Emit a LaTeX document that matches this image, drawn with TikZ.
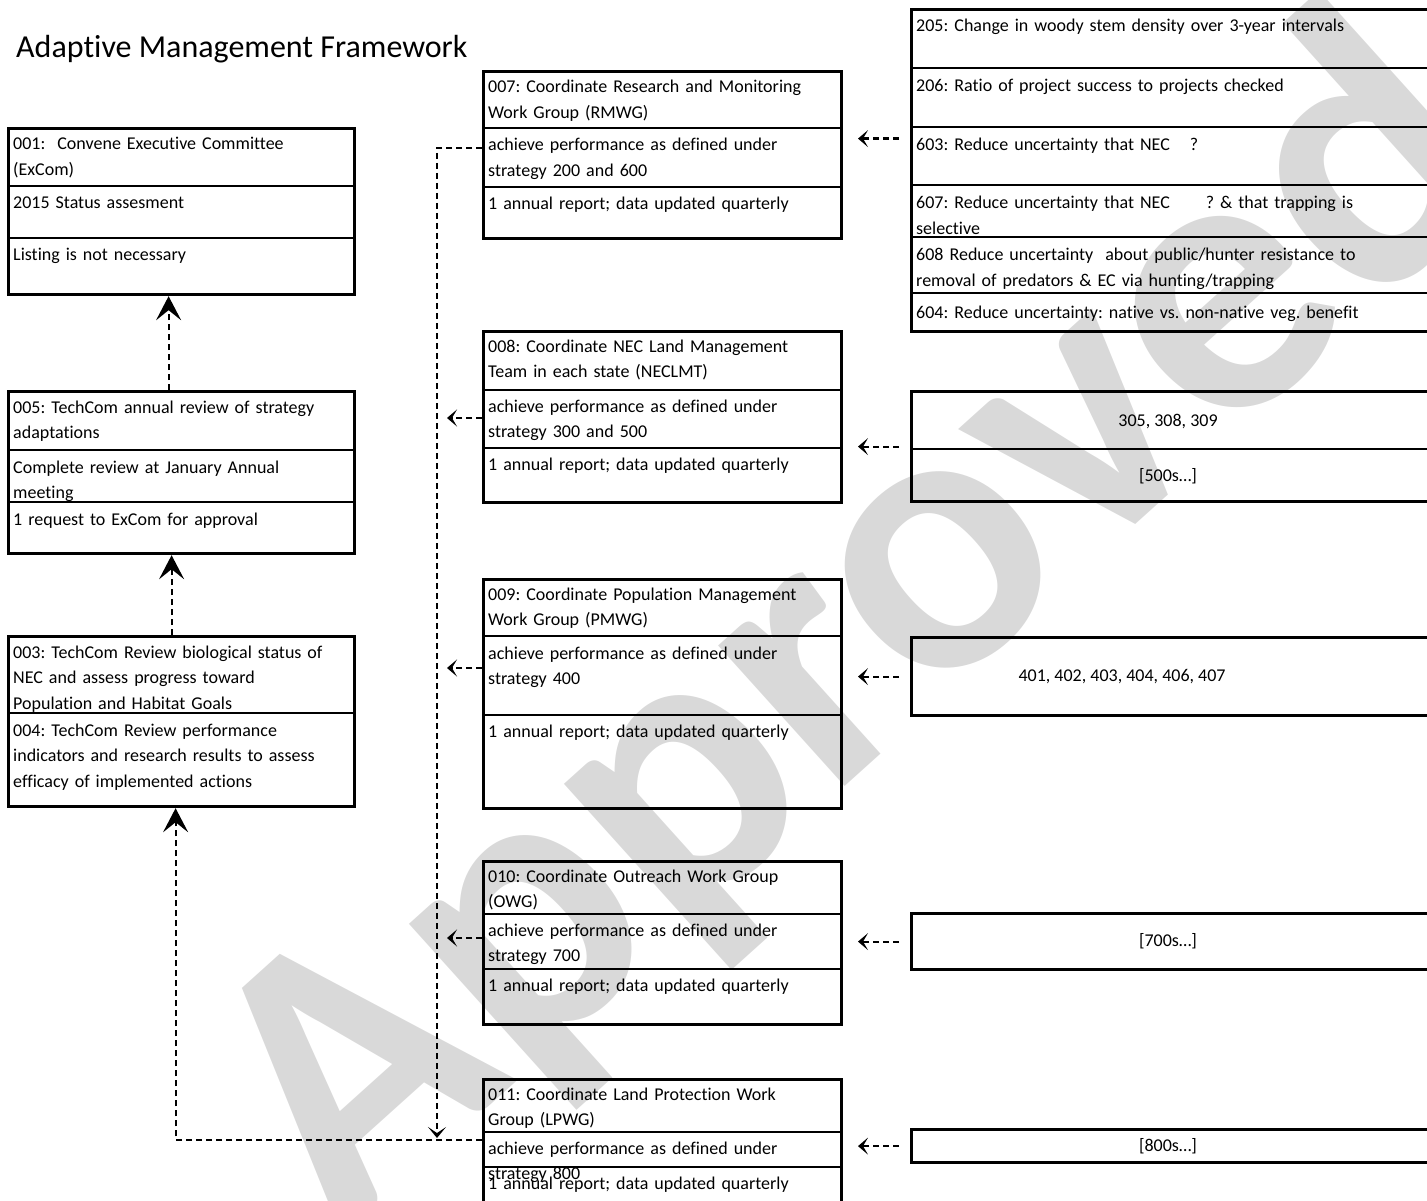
\documentclass[tikz,border=0pt]{standalone}
\usepackage{fontspec}
\setmainfont{Carlito}[Ligatures=CommonOff]
\usetikzlibrary{arrows.meta}
\definecolor{wmgray}{RGB}{217,217,217}
\frenchspacing

\begin{document}
\begin{tikzpicture}[x=1pt, y=-1pt, line join=miter,
		font=\fontsize{18}{25.5}\selectfont,
		box/.style={draw, line width=3.2pt, inner sep=0pt, anchor=north west},
		sep/.style={line width=2pt},
		txt/.style={anchor=base west, inner sep=0pt, align=left, text width=#1},
		txt/.default=345pt,
		ctr/.style={anchor=base, inner sep=0pt},
		dashline/.style={line width=2.2pt, dash pattern=on 6pt off 4pt},
		up/.style={dashline, -{Stealth[length=24pt, width=25pt, inset=10pt]}},
		back/.style={dashline, -{Stealth[length=10pt, width=17pt, inset=5pt]}},
		down/.style={dashline, -{Stealth[length=11pt, width=18pt, inset=6pt]}}]
	\useasboundingbox (0,0) rectangle (1427,1201);
	\clip (0,0) rectangle (1427,1201);
	% watermark
	\node[rotate=42, text=wmgray, font=\fontsize{390}{390}\selectfont\bfseries] (wm) at (860,630) {Approved};
	\node[anchor=base west, inner sep=0pt, font=\fontsize{32}{38}\selectfont] (title) at (16,58) {Adaptive Management Framework};
	
	% left column
	\node[box, minimum width=346pt, minimum height=166pt] (b001) at (7,127) {};
	\foreach \y in {186,238} \draw[sep] (7,\y) -- (353,\y);
	\node[txt] (t001) at (13,150) {001:\ \ Convene Executive Committee\\(ExCom)};
	\node[txt] (t001b) at (13,209) {2015 Status assesment};
	\node[txt] (t001c) at (13,261) {Listing is not necessary};
	
	\node[box, minimum width=346pt, minimum height=162pt] (b005) at (7,390) {};
	\foreach \y in {450,502} \draw[sep] (7,\y) -- (353,\y);
	\node[txt] (t005) at (13,413) {005: TechCom annual review of strategy\\adaptations};
	\node[txt] (t005b) at (13,473) {Complete review at January Annual\\meeting};
	\node[txt] (t005c) at (13,525) {1 request to ExCom for approval};
	
	\node[box, minimum width=346pt, minimum height=170pt] (b003) at (7,635) {};
	\draw[sep] (7,713) -- (353,713);
	\node[txt] (t003) at (13,658) {003: TechCom Review biological status of\\NEC and assess progress toward\\Population and Habitat Goals};
	\node[txt] (t004) at (13,736) {004: TechCom Review performance\\indicators and research results to assess\\efficacy of implemented actions};
	
	% middle column
	\node[box, minimum width=358pt, minimum height=167pt] (b007) at (482,70) {};
	\foreach \y in {128,187} \draw[sep] (482,\y) -- (840,\y);
	\node[txt] (t007) at (488,93) {007: Coordinate Research and Monitoring\\Work Group (RMWG)};
	\node[txt] (t007b) at (488,151) {achieve performance as defined under\\strategy 200 and 600};
	\node[txt] (t007c) at (488,210) {1 annual report; data updated quarterly};
	
	\node[box, minimum width=358pt, minimum height=171pt] (b008) at (482,330) {};
	\foreach \y in {390,448} \draw[sep] (482,\y) -- (840,\y);
	\node[txt] (t008) at (488,352) {008: Coordinate NEC Land Management\\Team in each state (NECLMT)};
	\node[txt] (t008b) at (488,412) {achieve performance as defined under\\strategy 300 and 500};
	\node[txt] (t008c) at (488,470) {1 annual report; data updated quarterly};
	
	\node[box, minimum width=358pt, minimum height=229pt] (b009) at (482,578) {};
	\foreach \y in {636,715} \draw[sep] (482,\y) -- (840,\y);
	\node[txt] (t009) at (488,600) {009: Coordinate Population Management\\Work Group (PMWG)};
	\node[txt] (t009b) at (488,659) {achieve performance as defined under\\strategy 400};
	\node[txt] (t009c) at (488,737) {1 annual report; data updated quarterly};
	
	\node[box, minimum width=358pt, minimum height=163pt] (b010) at (482,860) {};
	\foreach \y in {914,969} \draw[sep] (482,\y) -- (840,\y);
	\node[txt] (t010) at (488,882) {010: Coordinate Outreach Work Group\\(OWG)};
	\node[txt] (t010b) at (488,936) {achieve performance as defined under\\strategy 700};
	\node[txt] (t010c) at (488,991) {1 annual report; data updated quarterly};
	
	\node[box, minimum width=358pt, minimum height=150pt] (b011) at (482,1078) {};
	\foreach \y in {1132,1167} \draw[sep] (482,\y) -- (840,\y);
	\node[txt] (t011) at (488,1100) {011: Coordinate Land Protection Work\\Group (LPWG)};
	\node[txt] (t011b) at (488,1154) {achieve performance as defined under\\strategy 800};
	\node[txt] (t011c) at (488,1189) {1 annual report; data updated quarterly};
	
	% right column
	\node[box, minimum width=520pt, minimum height=322pt] (r1) at (910,8) {};
	\foreach \y in {68,127,185,237,293} \draw[sep] (910,\y) -- (1430,\y);
	\node[txt=510pt] (t205) at (916,32) {205: Change in woody stem density over 3-year intervals};
	\node[txt=510pt] (t206) at (916,92) {206: Ratio of project success to projects checked};
	\node[txt=510pt] (t603) at (916,151) {603: Reduce uncertainty that NEC\hspace{20pt}?};
	\node[txt=510pt] (t607) at (916,209) {607: Reduce uncertainty that NEC\hspace{36pt}? \& that trapping is\\selective};
	\node[txt=510pt] (t608) at (916,261) {608 Reduce uncertainty\ \ about public/hunter resistance to\\removal of predators \& EC via hunting/trapping};
	\node[txt=510pt] (t604) at (916,318) {604: Reduce uncertainty: native vs. non-native veg. benefit};
	
	\node[box, minimum width=520pt, minimum height=110pt] (r2) at (910,390) {};
	\draw[sep] (910,449) -- (1430,449);
	\node[ctr] (t300s) at (1168,426) {305, 308, 309};
	\node[ctr] (t500s) at (1168,481) {[500s…]};
	
	\node[box, minimum width=520pt, minimum height=78pt] (r3) at (910,636) {};
	\node[ctr] (t400s) at (1122,681) {401, 402, 403, 404, 406, 407};
	
	\node[box, minimum width=520pt, minimum height=56pt] (r4) at (910,912) {};
	\node[ctr] (t700s) at (1168,946) {[700s…]};
	
	\node[box, minimum width=520pt, minimum height=33pt] (r5) at (910,1128) {};
	\node[ctr] (t800s) at (1168,1151) {[800s…]};
	
	% connectors
	\coordinate (busend) at (437,1138);
	\draw[up] ([xshift=-13pt]b005.north) -- ([xshift=-13pt]b001.south);
	\draw[up] ([xshift=-10pt]b003.north) -- ([xshift=-10pt]b005.south);
	\draw[up] ([yshift=-62pt]b011.north west) -| ([xshift=-6pt]b003.south);
	\draw[down] ([yshift=-78pt]b007.north west) -| (busend);
	\foreach \b/\d in {b008/88pt, b009/90pt, b010/78pt}
		\draw[back] ([yshift=-\d]\b.north west) -- ++(-35,0);
	\draw[back] ([xshift=-11pt, yshift=32pt]r1.west) -- ++(-41,0);
	\foreach \r in {r2,r3,r4,r5}
		\draw[back] ([xshift=-11pt]\r.west) -- ++(-41,0);
\end{tikzpicture}
\end{document}
